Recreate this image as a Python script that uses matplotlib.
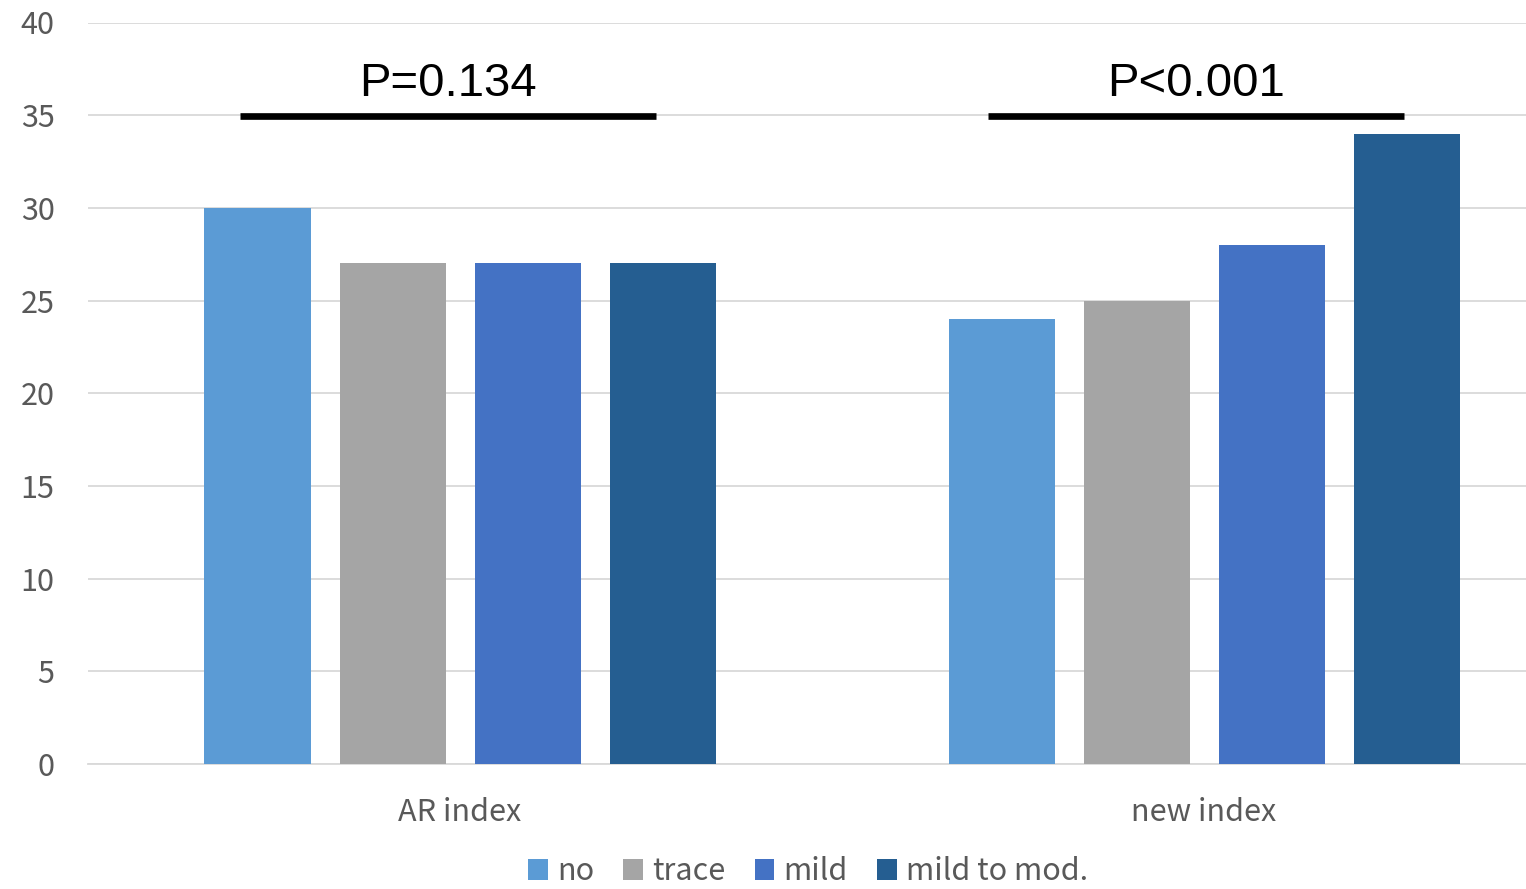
import matplotlib
matplotlib.use("Agg")
import matplotlib.pyplot as plt
from matplotlib.patches import Patch
import numpy as np

categories = ["AR index", "new index"]
series_names = ["no", "trace", "mild", "mild to mod."]
values = {
    "no": [30, 24],
    "trace": [27, 25],
    "mild": [27, 28],
    "mild to mod.": [27, 34],
}
colors = ["#5B9BD5", "#A5A5A5", "#4472C4", "#255E91"]
p_labels = ["P=0.134", "P<0.001"]
p_level = 35
yticks = [0, 5, 10, 15, 20, 25, 30, 35, 40]

plt.rcParams['font.family'] = ['Noto Sans CJK KR', 'DejaVu Sans']
W, H = 1526, 889
fig = plt.figure(figsize=(W / 100, H / 100), dpi=100)
left, right_px = 88, 88 + 2 * 744
top, bottom = 22.5, 764
ax = fig.add_axes([left / W, 1 - bottom / H, (right_px - left) / W, (bottom - top) / H])
ax.set_xlim(-0.5, 1.5)
ax.set_ylim(0, 40)

x = np.arange(len(categories))
step = 135 / 744
bw = 106 / 744
for i, name in enumerate(series_names):
    ax.bar(x + (i - 1.5) * step, values[name], width=bw, color=colors[i], zorder=3)

ax.set_yticks(yticks)
ax.yaxis.grid(True, color="#D9D9D9", linewidth=1.3, zorder=0)
ax.set_axisbelow(True)
for s in ["top", "right", "left"]:
    ax.spines[s].set_visible(False)
ax.spines["bottom"].set_color("#D9D9D9")
ax.spines["bottom"].set_linewidth(1.3)
ax.tick_params(axis="y", length=0, pad=24, labelsize=22, labelcolor="#595959")
ax.tick_params(axis="x", length=0, pad=24, labelsize=22, labelcolor="#595959")
ax.set_xticks(x)
ax.set_xticklabels(categories)

# significance bars
offsets = [(-0.296, 0.264), (-0.290, 0.269)]
for i, lab in enumerate(p_labels):
    x0 = i + offsets[i][0]
    x1 = i + offsets[i][1]
    ax.plot([x0, x1], [p_level - 0.05, p_level - 0.05], color="black", linewidth=4.8,
            solid_capstyle="butt", zorder=4)
    ax.text((x0 + x1) / 2, p_level + 1.05, lab, ha="center", va="baseline", fontsize=34,
            color="black", family=["Liberation Sans", "DejaVu Sans"])

handles = [Patch(facecolor=c, edgecolor="none") for c in colors]
fig.legend(handles, series_names, loc="lower center", bbox_to_anchor=(808 / W, -0.029), ncol=4,
           frameon=False, fontsize=22, labelcolor="#595959", handlelength=0.65, handleheight=0.65,
           handletextpad=0.3, columnspacing=0.95)

fig.savefig("out.png", dpi=100)
